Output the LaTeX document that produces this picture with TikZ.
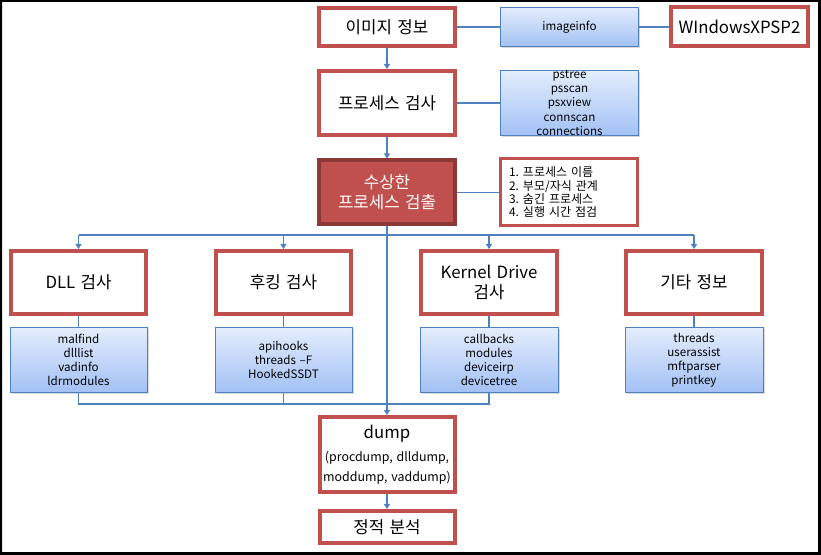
\documentclass[tikz,border=0pt]{standalone}
\usepackage{fontspec}
\setmainfont[WordSpace=1.4]{Noto Sans CJK KR}
\usetikzlibrary{arrows.meta,shadows,calc}
\definecolor{redb}{RGB}{192,80,77}
\definecolor{darkredb}{RGB}{140,56,54}
\definecolor{lineb}{RGB}{79,129,189}
\definecolor{topb}{RGB}{228,237,252}
\definecolor{botb}{RGB}{163,193,245}
\frenchspacing
\begin{document}
\begin{tikzpicture}[x=0.75pt,y=-0.75pt,
  redbox/.style={draw=redb, line width=3pt, fill=white, inner sep=0pt, align=center,
    font=\fontsize{12.6pt}{15pt}\selectfont},
  susbox/.style={redbox, draw=darkredb, fill=redb, text=white},
  bluebox/.style={draw=lineb, line width=0.75pt, top color=topb, bottom color=botb,
    drop shadow={shadow xshift=1.2pt, shadow yshift=-1.2pt, opacity=0.3},
    inner sep=0pt, align=center, font=\fontsize{8.7pt}{10.6pt}\selectfont},
  listbox/.style={draw=redb, line width=2.25pt, fill=white, align=left,
    text width=90pt, inner xsep=6.4pt, inner ysep=0pt, font=\fontsize{9pt}{10pt}\selectfont},
  conn/.style={draw=lineb, line width=1pt},
  arr/.style={conn, -{Triangle[width=4.5pt,length=3.75pt]}}
]
\useasboundingbox (0,0) rectangle (821,555);
\fill[white] (0,0) rectangle (821,555);
\fill[black, even odd rule] (0,0) rectangle (821,555) (2,2) rectangle (818,552);

% top row
\node[redbox, minimum width=102pt, minimum height=28.5pt] (img) at (387,27) {이미지 정보};
\node[bluebox, minimum width=103.5pt, minimum height=29.25pt] (ii) at (569.5,27) {imageinfo};
\node[redbox, minimum width=102.75pt, minimum height=29.25pt] (win) at (739.5,27) {WIndowsXPSP2};

% second row
\node[redbox, minimum width=102pt, minimum height=48pt] (proc) at (387,103) {프로세스 검사};
\node[bluebox, minimum width=103.5pt, minimum height=48.75pt] (ps) at (569.5,103)
  {pstree\\psscan\\psxview\\connscan\\connections};

% third row
\node[susbox, minimum width=102pt, minimum height=48pt] (sus) at (387,192.5) {수상한\\프로세스 검출};
\node[listbox, minimum height=50.25pt] (list) at (569,192.5)
  {1. 프로세스 이름\\2. 부모/자식 관계\\3. 숨긴 프로세스\\4. 실행 시간 점검};

% category boxes
\node[redbox, minimum width=101.25pt, minimum height=47.25pt] (dll) at (78.5,282.5) {DLL 검사};
\node[redbox, minimum width=101.25pt, minimum height=47.25pt] (hook) at (283.5,282.5) {후킹 검사};
\node[redbox, minimum width=102pt, minimum height=47.25pt] (kern) at (489,282.5) {Kernel Drive\\검사};
\node[redbox, minimum width=102pt, minimum height=47.25pt] (etc) at (694,282.5) {기타 정보};

% plugin lists
\node[bluebox, minimum width=102.75pt, minimum height=48.75pt] (dlll) at (78.5,360)
  {malfind\\dlllist\\vadinfo\\ldrmodules};
\node[bluebox, minimum width=102.75pt, minimum height=48.75pt] (hookl) at (283.5,360)
  {apihooks\\threads –F\\HookedSSDT};
\node[bluebox, minimum width=103.5pt, minimum height=48.75pt] (kernl) at (489,360)
  {callbacks\\modules\\deviceirp\\devicetree};
\node[bluebox, minimum width=103.5pt, minimum height=48.75pt] (etcl) at (694,360)
  {threads\\userassist\\mftparser\\printkey};

% dump and static analysis
\node[redbox, minimum width=101.25pt, minimum height=56.25pt] (dump) at (387,454.5)
  {dump\\[2pt]{\fontsize{9.3pt}{15pt}\selectfont (procdump, dlldump,}\\{\fontsize{9.3pt}{15pt}\selectfont moddump, vaddump)}};
\node[redbox, minimum width=101.25pt, minimum height=24pt] (stat) at (387,527) {정적 분석};

% connectors
\draw[conn] (img.east) -- (ii.west);
\draw[conn] (ii.east) -- (win.west);
\draw[arr] (img.south) -- (proc.north);
\draw[conn] (proc.east) -- (ps.west);
\draw[arr] (proc.south) -- (sus.north);
\draw[conn] (sus.east) -- (list.west);

\coordinate (bt) at (0,235);
\coordinate (bb) at (0,404);
\draw[conn] (dll.north |- bt) -- (etc.north |- bt);
\draw[arr] (dll.north |- bt) -- (dll.north);
\draw[arr] (hook.north |- bt) -- (hook.north);
\draw[arr] (kern.north |- bt) -- (kern.north);
\draw[arr] (etc.north |- bt) -- (etc.north);

\draw[conn] (dll.south) -- (dlll.north);
\draw[conn] (hook.south) -- (hookl.north);
\draw[conn] (kern.south) -- (kernl.north);
\draw[conn] (etc.south) -- (etcl.north);

\draw[conn] (dlll.south) -- (dlll.south |- bb) -- (kernl.south |- bb) -- (kernl.south);
\draw[conn] (hookl.south) -- (hookl.south |- bb);

\draw[arr] (sus.south) -- (dump.north);
\draw[arr] (dump.south) -- (stat.north);
\end{tikzpicture}
\end{document}
